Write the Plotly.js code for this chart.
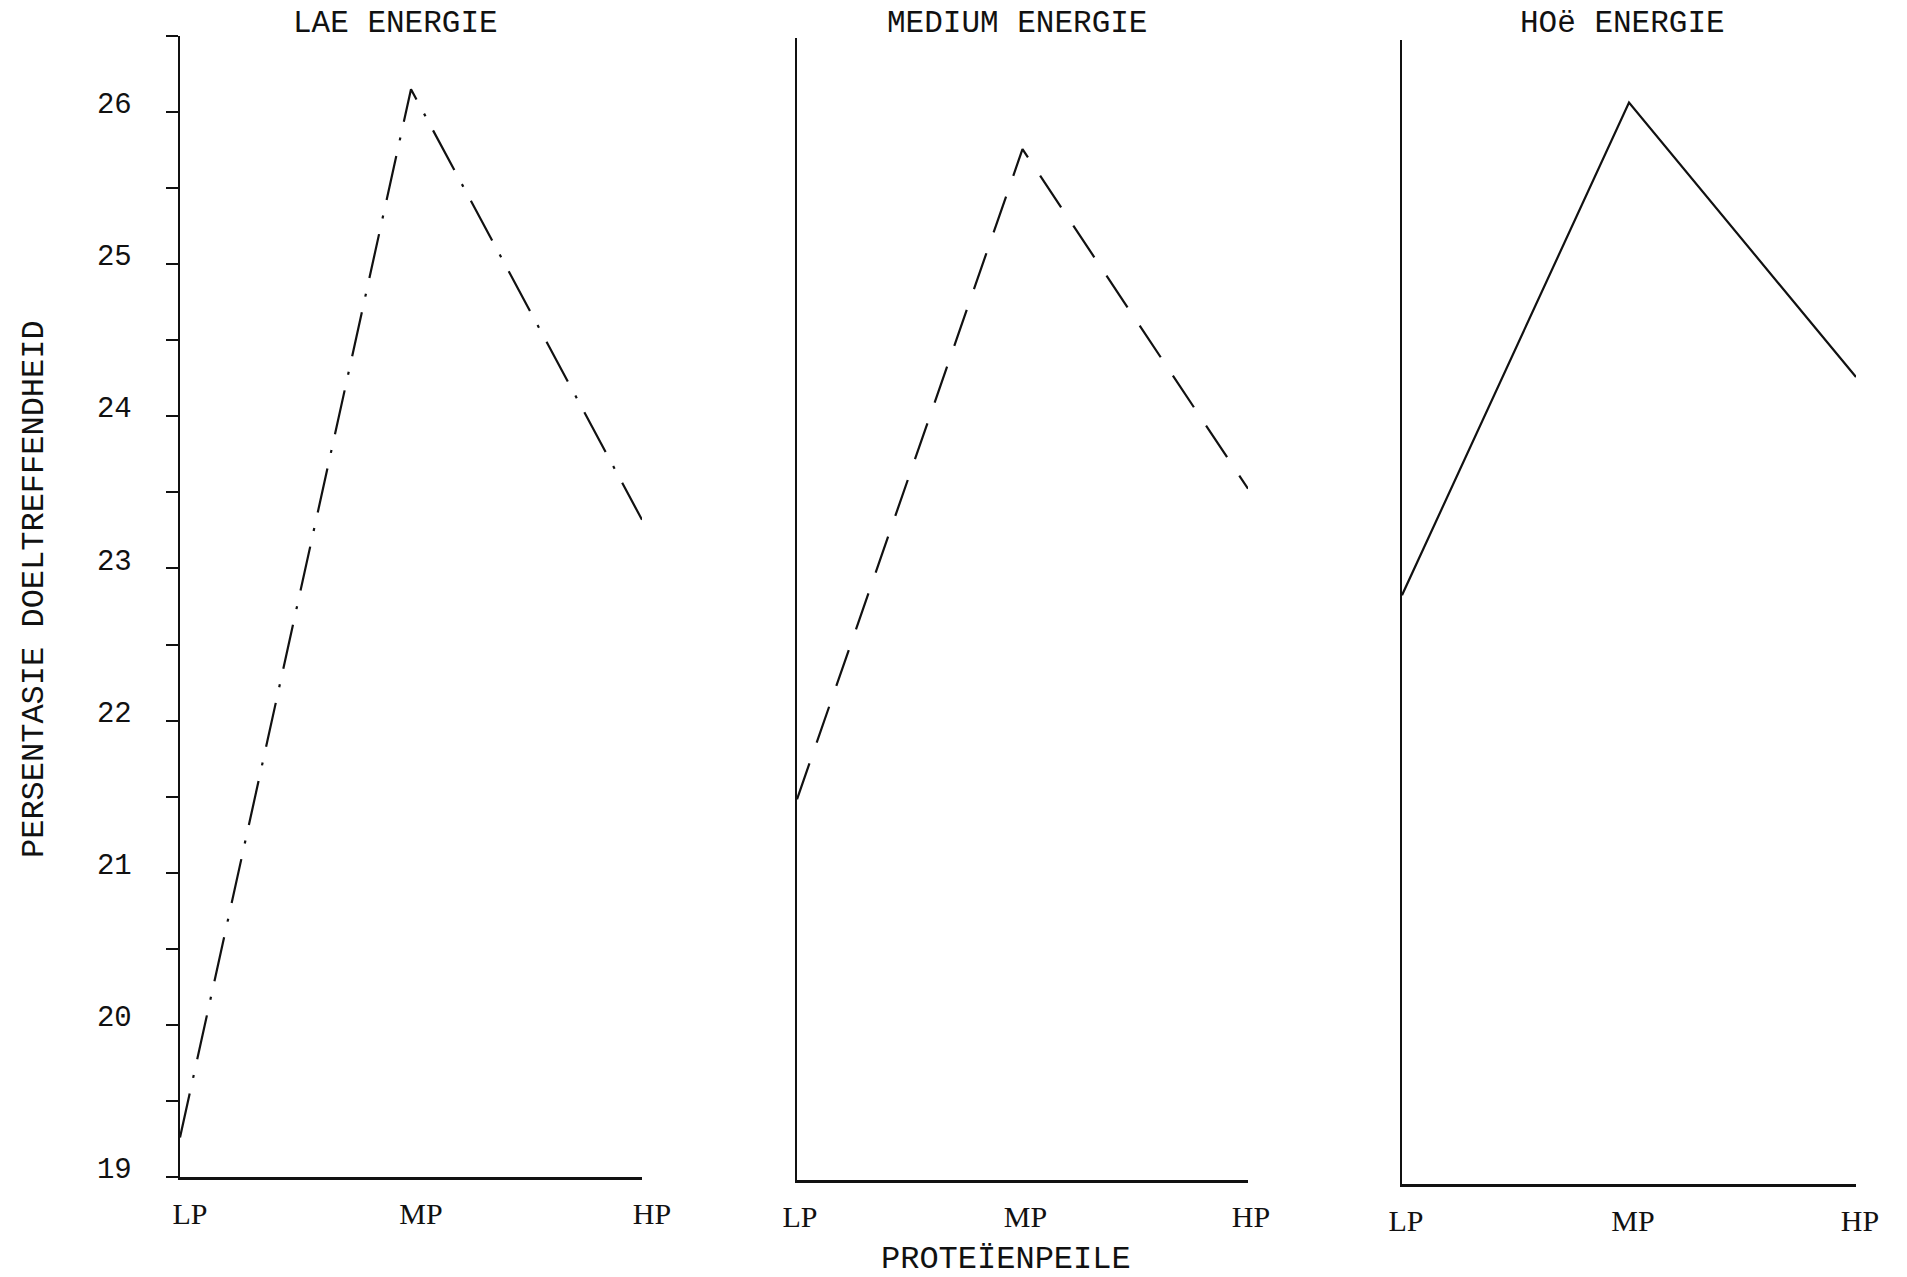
<!DOCTYPE html>
<html>
<head>
<meta charset="utf-8">
<script src="https://cdn.plot.ly/plotly-3.0.1.min.js"></script>
<style>
  html, body { margin: 0; padding: 0; background: #ffffff; }
  #chart { width: 1907px; height: 1277px; }
</style>
</head>
<body>
<div id="chart"></div>
<script>
// ---- data ----
const proteinLevels = ['LP', 'MP', 'HP'];
const panelTitles = ['LAE ENERGIE', 'MEDIUM ENERGIE', 'HOë ENERGIE'];
const lowEnergy = [19.26, 26.15, 23.32];
const mediumEnergy = [21.50, 25.77, 23.54];
const highEnergy = [22.86, 26.09, 24.29];
const yTickValues = [19, 20, 21, 22, 23, 24, 25, 26];
const yAxisTitle = 'PERSENTASIE DOELTREFFENDHEID';
const xAxisTitle = 'PROTEÏENPEILE';

// ---- styling ----
const W = 1907, H = 1277;
const ink = '#111111';
const mono = 'Liberation Mono, Courier New, monospace';
const serif = 'Liberation Serif, Times New Roman, serif';
const px = v => v / W;
const py = v => (H - v) / H;

const series = [lowEnergy, mediumEnergy, highEnergy];
const dashes = ['45px,16px,3px,16px', '38px,22px', 'solid'];
const axisSuffix = ['', '2', '3'];

const traces = series.map((vals, i) => ({
  type: 'scatter',
  mode: 'lines',
  x: proteinLevels,
  y: vals,
  xaxis: 'x' + axisSuffix[i],
  yaxis: 'y' + axisSuffix[i],
  line: { color: ink, width: 2.2, dash: dashes[i] },
  hoverinfo: 'x+y',
  showlegend: false
}));

// panel geometry (pixels) : [left, right, top, bottom]
const panels = [
  [180, 642, 36, 1177],
  [797, 1248, 38, 1180],
  [1402, 1856, 40, 1184]
];
const xShift = [10, 3, 4];

const layout = {
  width: W, height: H,
  margin: { l: 0, r: 0, t: 0, b: 0 },
  paper_bgcolor: '#ffffff',
  plot_bgcolor: '#ffffff',
  showlegend: false,
  annotations: []
};

panels.forEach((p, i) => {
  const s = axisSuffix[i];
  layout['xaxis' + s] = {
    domain: [px(p[0]), px(p[1])],
    anchor: 'y' + s,
    type: 'category',
    range: [0, 2],
    showline: true, linecolor: ink, linewidth: 2.5,
    showgrid: false, zeroline: false,
    ticks: '',
    ticklabelshift: xShift[i],
    ticklabelstandoff: 8,
    tickfont: { family: serif, size: 30, color: ink },
    fixedrange: true
  };
  const ya = {
    domain: [py(p[3]), py(p[2])],
    anchor: 'x' + s,
    range: [19, 26.5],
    showline: true, linecolor: ink, linewidth: 2.5,
    showgrid: false, zeroline: false,
    fixedrange: true
  };
  if (i === 0) {
    Object.assign(ya, {
      tickmode: 'array',
      tickvals: yTickValues,
      ticktext: yTickValues.map(String),
      ticks: 'outside', ticklen: 12, tickwidth: 2, tickcolor: ink,
      minor: { dtick: 0.5, tick0: 19, ticks: 'outside', ticklen: 12, tickwidth: 2, tickcolor: ink },
      ticklabelstandoff: 28,
      ticklabelshift: -9,
      tickfont: { family: mono, size: 29, color: ink },
      automargin: false
    });
  } else {
    Object.assign(ya, { showticklabels: false, ticks: '' });
  }
  layout['yaxis' + s] = ya;

  layout.annotations.push({
    xref: 'paper', yref: 'paper',
    x: px([395, 1017, 1622][i]), y: py(24),
    xanchor: 'center', yanchor: 'middle',
    text: panelTitles[i], showarrow: false,
    font: { family: mono, size: 31, color: ink }
  });
});

// shared axis titles
layout.annotations.push({
  xref: 'paper', yref: 'paper',
  x: px(1006), y: py(1259),
  xanchor: 'center', yanchor: 'middle',
  text: xAxisTitle, showarrow: false,
  font: { family: mono, size: 32, color: ink }
});
layout.annotations.push({
  xref: 'paper', yref: 'paper',
  x: px(34), y: py(589),
  xanchor: 'center', yanchor: 'middle',
  textangle: -90,
  text: yAxisTitle, showarrow: false,
  font: { family: mono, size: 32, color: ink }
});

Plotly.newPlot('chart', traces, layout, { staticPlot: true, displayModeBar: false });
</script>
</body>
</html>
